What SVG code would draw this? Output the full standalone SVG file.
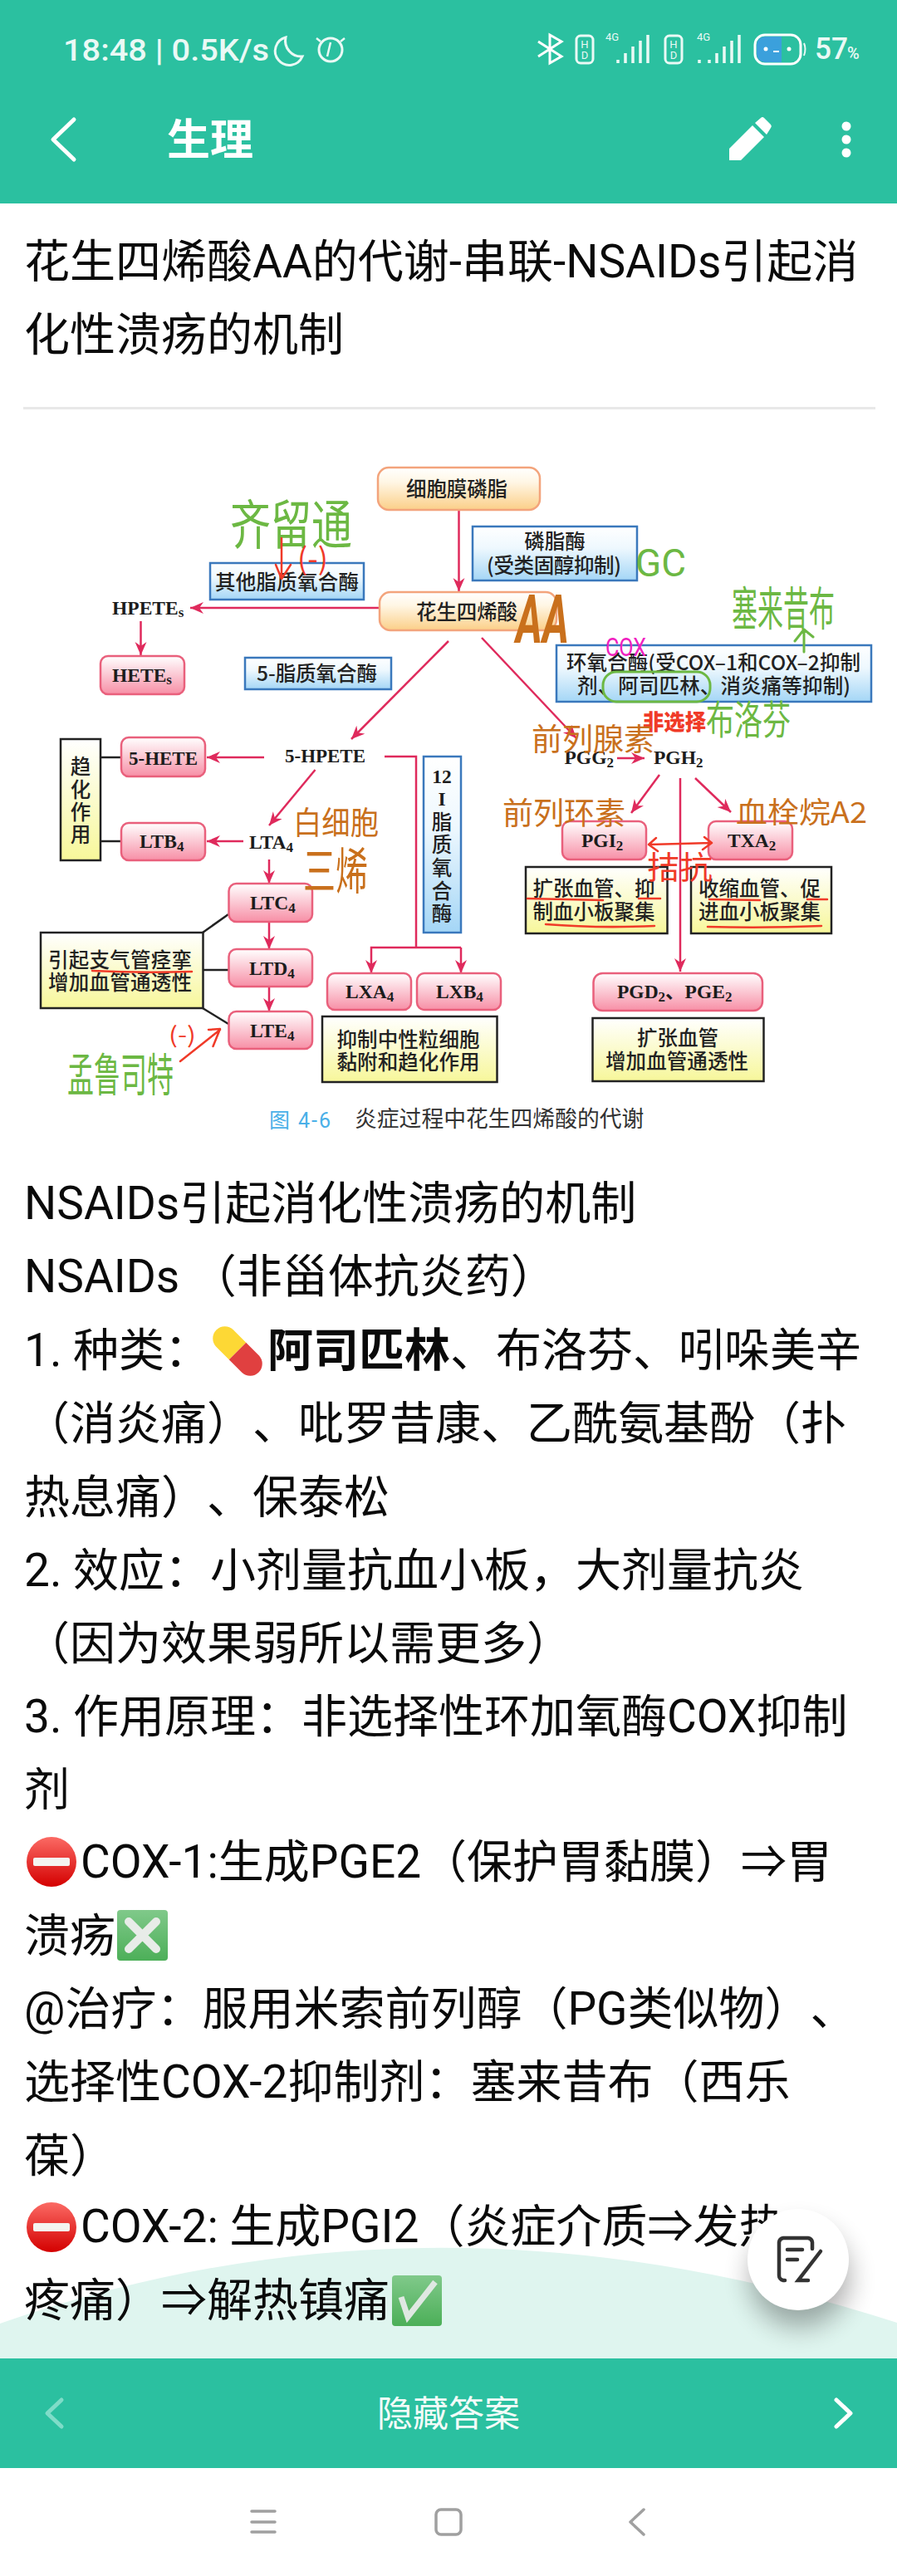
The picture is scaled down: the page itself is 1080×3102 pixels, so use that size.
<svg xmlns="http://www.w3.org/2000/svg" width="1080" height="3102" viewBox="0 0 1080 3102">
<style>
text{font-family:"Noto Sans CJK SC",sans-serif;text-spacing-trim:space-all}
.ui{font-family:Roboto,"Noto Sans CJK SC",sans-serif}
.b{font-family:Roboto,"Noto Sans CJK SC",sans-serif;font-size:55px;fill:#0a0a0a}
.o{fill:url(#gO);stroke:#f3a47c;stroke-width:2.5}
.p{fill:url(#gP);stroke:#e9607c;stroke-width:2.5}
.e{fill:url(#gB);stroke:#3a78bc;stroke-width:2.5}
.y{fill:url(#gY);stroke:#222;stroke-width:2.5}
.l{font-family:"Liberation Serif","Noto Sans CJK SC",serif;font-weight:700;font-size:23.5px;fill:#1c1c1c}
.s{font-size:17px}
.c{font-weight:500;font-size:24.5px;fill:#222}
.a{fill:none;stroke:#df2a5c;stroke-width:2.5}
.k{fill:none;stroke:#222;stroke-width:2.5}
.g{fill:#6cb843}.n{fill:#c9701c}.r{fill:#f03a28}
.hr{fill:none;stroke:#f03a28;stroke-width:2.5;stroke-linecap:round;stroke-linejoin:round}
.hg{fill:none;stroke:#6cb843;stroke-width:3;stroke-linecap:round;stroke-linejoin:round}
.w{fill:none;stroke:#fff;stroke-width:5;stroke-linecap:round;stroke-linejoin:round}
.h{fill:none;stroke:#a0a0a0;stroke-width:3.5;stroke-linecap:round;stroke-linejoin:round}
</style>
<defs>
<linearGradient id="gO" x1="0" y1="0" x2="0" y2="1"><stop offset="0" stop-color="#fff"/><stop offset=".35" stop-color="#fff6e4"/><stop offset="1" stop-color="#fbcf88"/></linearGradient>
<linearGradient id="gP" x1="0" y1="0" x2="0" y2="1"><stop offset="0" stop-color="#fff"/><stop offset="1" stop-color="#f78fa6"/></linearGradient>
<linearGradient id="gB" x1="0" y1="0" x2="0" y2="1"><stop offset="0" stop-color="#fff"/><stop offset=".4" stop-color="#eef8fe"/><stop offset="1" stop-color="#a4d6f6"/></linearGradient>
<linearGradient id="gY" x1="0" y1="0" x2="0" y2="1"><stop offset="0" stop-color="#fff"/><stop offset="1" stop-color="#f7f79a"/></linearGradient>
<linearGradient id="gR" x1="0" y1="0" x2="0" y2="1"><stop offset="0" stop-color="#fb6a64"/><stop offset="1" stop-color="#d40000"/></linearGradient>
<linearGradient id="gG" x1="0" y1="0" x2="0" y2="1"><stop offset="0" stop-color="#80c98a"/><stop offset="1" stop-color="#4caf58"/></linearGradient>
<marker id="ah" markerUnits="userSpaceOnUse" markerWidth="18" markerHeight="16" refX="16" refY="7" orient="auto"><path d="M0,0 L16,7 L0,14 L5,7 z" fill="#df2a5c"/></marker>
<filter id="sh" x="-50%" y="-50%" width="200%" height="200%"><feGaussianBlur stdDeviation="16"/></filter>
<symbol id="noentry" viewBox="0 0 60 60" overflow="visible"><ellipse cx="30" cy="30" rx="30" ry="30" fill="url(#gR)"/><rect x="8" y="25" width="44" height="10" rx="2" fill="#f4f4f0"/></symbol>
</defs>
<rect width="1080" height="3102" fill="#fff"/>

<g id="appbar">
<rect width="1080" height="245" fill="#2bc0a0"/>
<text class="ui" x="76" y="73" font-size="37" font-weight="500" fill="#eaf9f5" textLength="248" lengthAdjust="spacingAndGlyphs">18:48 | 0.5K/s</text>
<path d="M344,45 A17,17 0 1 0 364,68 A19,19 0 0 1 344,45 Z" fill="none" stroke="#eaf9f5" stroke-width="3"/>
<circle cx="398" cy="60" r="14" fill="none" stroke="#eaf9f5" stroke-width="3"/><path d="M398,51 L394,68 M381,46 L386,50 M415,46 L410,50" stroke="#eaf9f5" stroke-width="2.5" fill="none"/>
<path d="M648,50 L676,68 L662,76 L662,42 L676,50 L648,68" fill="none" stroke="#fff" stroke-width="3"/>
<rect x="694" y="43" width="20" height="33" rx="5" fill="none" stroke="#eaf9f5" stroke-width="3"/>
<text class="ui" x="704" y="58" font-size="13" fill="#eaf9f5" text-anchor="middle">H</text><text class="ui" x="704" y="71" font-size="13" fill="#eaf9f5" text-anchor="middle">D</text>
<text class="ui" x="729" y="49" font-size="13" fill="#eaf9f5">4G</text>
<path d="M744,76V72 M753,76V64 M762,76V56 M771,76V49 M780,76V42" stroke="#eaf9f5" stroke-width="3.5" fill="none"/>
<rect x="801" y="43" width="20" height="33" rx="5" fill="none" stroke="#eaf9f5" stroke-width="3"/>
<text class="ui" x="811" y="58" font-size="13" fill="#eaf9f5" text-anchor="middle">H</text><text class="ui" x="811" y="71" font-size="13" fill="#eaf9f5" text-anchor="middle">D</text>
<text class="ui" x="839" y="49" font-size="13" fill="#eaf9f5">4G</text>
<path d="M842,76V72 M854,76V72 M863,76V64 M872,76V56 M881,76V49 M890,76V42" stroke="#eaf9f5" stroke-width="3.5" fill="none"/>
<rect x="909" y="42" width="55" height="35" rx="12" fill="#2bc0a0" stroke="#fff" stroke-width="3"/>
<path d="M921,44 H941 V75 H921 A10,10 0 0 1 911,65 V54 A10,10 0 0 1 921,44Z" fill="#3ba0dc"/>
<circle cx="922" cy="59" r="2.5" fill="#fff"/><circle cx="950" cy="59" r="2.5" fill="#fff"/><path d="M931,62H938" stroke="#fff" stroke-width="2"/>
<path d="M968,52 Q971,59 968,67" stroke="#eaf9f5" stroke-width="2" fill="none"/>
<text class="ui" x="981" y="71" font-size="36" font-weight="500" fill="#eaf9f5" textLength="40" lengthAdjust="spacingAndGlyphs">57</text>
<text class="ui" x="1020" y="71" font-size="20" font-weight="500" fill="#eaf9f5">%</text>
<path class="w" d="M89,144 L64,168 L89,192"/>
<text x="201" y="187" font-size="52" font-weight="700" fill="#fff">生理</text>
<path d="M878,193 L878,179 L906,151 L920,165 L892,193 Z M909,148 L916,142 A3,3 0 0 1 920,142 L928,150 A3,3 0 0 1 928,154 L923,162 Z" fill="#fff"/>
<circle cx="1019" cy="152" r="5.5" fill="#fff"/><circle cx="1019" cy="168" r="5.5" fill="#fff"/><circle cx="1019" cy="184" r="5.5" fill="#fff"/>
</g>

<g id="title">
<text class="b" x="29" y="334">花生四烯酸AA的代谢-串联-NSAIDs引起消</text>
<text class="b" x="29" y="422">化性溃疡的机制</text>
<rect x="28" y="490" width="1026" height="3" fill="#e8e8e8"/>
</g>

<g id="connectors">
<path class="a" marker-end="url(#ah)" d="M552.5,614V712"/>
<path class="a" marker-end="url(#ah)" d="M457,732H229"/>
<path class="a" marker-end="url(#ah)" d="M169.5,748V789"/>
<path class="a" marker-end="url(#ah)" d="M540,772L423,890"/>
<path class="a" marker-end="url(#ah)" d="M580,768L694,889"/>
<path class="a" marker-end="url(#ah)" d="M318,912H249"/>
<path class="a" marker-end="url(#ah)" d="M379.5,927L324,994"/>
<path class="a" marker-end="url(#ah)" d="M293,1013H249"/>
<path class="a" marker-end="url(#ah)" d="M324,1035V1064"/>
<path class="a" marker-end="url(#ah)" d="M324,1110V1143"/>
<path class="a" marker-end="url(#ah)" d="M324,1188V1218"/>
<path class="a" d="M463,911H501V1141"/>
<path class="a" marker-end="url(#ah)" d="M555,1141H447V1172"/>
<path class="a" marker-end="url(#ah)" d="M555,1141V1172"/>
<path class="a" marker-end="url(#ah)" d="M743,913H776"/>
<path class="a" marker-end="url(#ah)" d="M794,933L760,979"/>
<path class="a" marker-end="url(#ah)" d="M837,937L880,978"/>
<path class="a" marker-end="url(#ah)" d="M819,937V1170"/>
<path class="k" d="M121,912H146 M121,1013H146 M244,1123L275,1101 M244,1168H275 M244,1214L275,1233"/>
</g>

<g id="n-membrane"><rect class="o" x="455" y="563" width="195" height="51" rx="13"/><text class="c" x="489" y="598" textLength="122">细胞膜磷脂</text></g>
<g id="n-pla2"><rect class="e" x="569" y="634" width="198" height="65"/><text class="c" x="668" y="661" text-anchor="middle">磷脂酶</text><text class="c" x="586" y="690" textLength="162">(受类固醇抑制)</text></g>
<g id="n-aa"><rect class="o" x="457" y="713" width="213" height="46" rx="13"/><text class="c" x="501" y="746" textLength="122">花生四烯酸</text></g>
<g id="n-other-lox"><rect class="e" x="253" y="678" width="185" height="44"/><text class="c" x="259" y="710" textLength="173">其他脂质氧合酶</text></g>
<g id="n-hpetes"><text class="l" x="135" y="740">HPETE<tspan class="s" dy="3">s</tspan></text></g>
<g id="n-hetes"><rect class="p" x="121" y="790" width="101" height="46" rx="9"/><text class="l" x="135" y="821">HETE<tspan class="s" dy="3">s</tspan></text></g>
<g id="n-5lox"><rect class="e" x="295" y="792" width="176" height="38"/><text class="c" x="309" y="820" textLength="145">5-脂质氧合酶</text></g>
<g id="n-cox"><rect class="e" x="670" y="777" width="379" height="68"/><text class="c" x="682" y="807" textLength="354">环氧合酶(受COX–1和COX–2抑制</text><text class="c" x="695" y="835" textLength="329">剂、阿司匹林、消炎痛等抑制)</text></g>
<g id="n-5hpete"><text class="l" x="343" y="918" textLength="97" lengthAdjust="spacingAndGlyphs">5-HPETE</text></g>
<g id="n-5hete"><rect class="p" x="146" y="888" width="101" height="47" rx="9"/><text class="l" x="155" y="921" textLength="83" lengthAdjust="spacingAndGlyphs">5-HETE</text></g>
<g id="n-chemo"><rect class="y" x="73" y="890" width="48" height="146"/><text class="c" x="97" y="932" text-anchor="middle">趋</text><text class="c" x="97" y="960" text-anchor="middle">化</text><text class="c" x="97" y="987" text-anchor="middle">作</text><text class="c" x="97" y="1014" text-anchor="middle">用</text></g>
<g id="n-ltb4"><rect class="p" x="146" y="991" width="101" height="45" rx="9"/><text class="l" x="168" y="1021">LTB<tspan class="s" dy="4">4</tspan></text></g>
<g id="n-lta4"><text class="l" x="300" y="1022">LTA<tspan class="s" dy="4">4</tspan></text></g>
<g id="n-ltc4"><rect class="p" x="275.500" y="1064" width="100.500" height="46" rx="9"/><text class="l" x="301" y="1095">LTC<tspan class="s" dy="4">4</tspan></text></g>
<g id="n-ltd4"><rect class="p" x="275.500" y="1143" width="100.500" height="45" rx="9"/><text class="l" x="300" y="1174">LTD<tspan class="s" dy="4">4</tspan></text></g>
<g id="n-lte4"><rect class="p" x="275.500" y="1218" width="100.500" height="45" rx="9"/><text class="l" x="301" y="1249">LTE<tspan class="s" dy="4">4</tspan></text></g>
<g id="n-bronch"><rect class="y" x="49" y="1123" width="195.500" height="91"/><text class="c" x="58" y="1165" textLength="173">引起支气管痉挛</text><text class="c" x="58" y="1192" textLength="173">增加血管通透性</text></g>
<g id="n-12lox"><rect class="e" x="510" y="911" width="45" height="212"/><g text-anchor="middle"><text class="l" x="532" y="943">12</text><text class="l" x="532" y="970">I</text><text class="c" x="532" y="999">脂</text><text class="c" x="532" y="1026">质</text><text class="c" x="532" y="1054">氧</text><text class="c" x="532" y="1082">合</text><text class="c" x="532" y="1109">酶</text></g></g>
<g id="n-lxa4"><rect class="p" x="394" y="1172" width="101" height="44" rx="9"/><text class="l" x="416" y="1202">LXA<tspan class="s" dy="4">4</tspan></text></g>
<g id="n-lxb4"><rect class="p" x="502" y="1172" width="101" height="44" rx="9"/><text class="l" x="525" y="1202">LXB<tspan class="s" dy="4">4</tspan></text></g>
<g id="n-neutro"><rect class="y" x="388" y="1224" width="210.500" height="79"/><text class="c" x="405.500" y="1261" textLength="172">抑制中性粒细胞</text><text class="c" x="405.500" y="1288" textLength="172">黏附和趋化作用</text></g>
<g id="n-pgg2"><text class="l" x="679.500" y="920">PGG<tspan class="s" dy="4">2</tspan></text></g>
<g id="n-pgh2"><text class="l" x="787" y="920">PGH<tspan class="s" dy="4">2</tspan></text></g>
<g id="n-pgi2"><rect class="p" x="677" y="989" width="101" height="46" rx="9"/><text class="l" x="700" y="1020">PGI<tspan class="s" dy="4">2</tspan></text></g>
<g id="n-txa2"><rect class="p" x="853" y="989" width="101" height="46" rx="9"/><text class="l" x="876" y="1020">TXA<tspan class="s" dy="4">2</tspan></text></g>
<g id="n-dilate"><rect class="y" x="633" y="1044" width="170.500" height="80"/><text class="c" x="641.500" y="1079" textLength="147">扩张血管、抑</text><text class="c" x="641.500" y="1107" textLength="147">制血小板聚集</text></g>
<g id="n-constrict"><rect class="y" x="832" y="1044" width="169" height="80"/><text class="c" x="841" y="1079" textLength="147">收缩血管、促</text><text class="c" x="841" y="1107" textLength="147">进血小板聚集</text></g>
<g id="n-pgd2"><rect class="p" x="714.500" y="1172" width="203.500" height="45" rx="11"/><text class="l" x="743" y="1202">PGD<tspan class="s" dy="4">2</tspan><tspan dy="-4">、PGE</tspan><tspan class="s" dy="4">2</tspan></text></g>
<g id="n-perm"><rect class="y" x="713.500" y="1226" width="206" height="76"/><text class="c" x="816" y="1259" text-anchor="middle">扩张血管</text><text class="c" x="729" y="1287" textLength="172">增加血管通透性</text></g>
<g id="caption"><text class="ui" x="324" y="1358" font-size="25" fill="#4ab0e8" textLength="74">图 4-6</text><text x="427" y="1357" font-size="26.800" fill="#333">炎症过程中花生四烯酸的代谢</text></g>

<g id="annotations">
<text class="g" transform="translate(277,655) scale(1,1.3)" font-size="49" textLength="147" lengthAdjust="spacingAndGlyphs">齐留通</text>
<path class="hr" d="M339,648V697 M332,680L339,697L350,680"/>
<text class="r" x="358" y="686" font-size="36">(-)</text>
<text class="g ui" x="765" y="694" font-size="46" textLength="61" lengthAdjust="spacingAndGlyphs">GC</text>
<text class="n ui" x="621" y="774" font-size="82" font-weight="700" font-style="italic" textLength="64" lengthAdjust="spacingAndGlyphs">AA</text>
<text class="ui" x="729" y="790" font-size="32" fill="#f020c0" textLength="49" lengthAdjust="spacingAndGlyphs">COX</text>
<text class="g" transform="translate(881,753) scale(1,1.8)" font-size="31">塞来昔布</text>
<path class="hg" d="M968,785V758 M957,772L968,758L979,767"/>
<rect x="726" y="809" width="129" height="36" rx="16" fill="none" stroke="#6cb843" stroke-width="3"/>
<text class="r" x="774" y="879" font-size="26" font-weight="900" textLength="76" lengthAdjust="spacingAndGlyphs">非选择</text>
<text class="g" transform="translate(850,884) scale(1,1.4)" font-size="34">布洛芬</text>
<text class="n" x="640" y="904" font-size="37">前列腺素</text>
<text class="n" x="605" y="993" font-size="37">前列环素</text>
<text class="n" x="886" y="991" font-size="35" textLength="158" lengthAdjust="spacingAndGlyphs">血栓烷A2</text>
<path class="hr" d="M781,1017L857,1015 M790,1009L781,1017L792,1025 M848,1008L857,1015L846,1023" stroke-width="3"/>
<text class="r" x="779" y="1058" font-size="38" textLength="79" lengthAdjust="spacingAndGlyphs">拮抗</text>
<path class="hr" d="M635,1082L726,1084 M769,1082L795,1082 M657,1113Q720,1118 788,1115 M854,1083L915,1084 M972,1083L996,1083 M852,1116Q920,1118 989,1115 M111,1169Q170,1172 231,1170"/>
<text class="n" x="353" y="1004" font-size="38" textLength="103" lengthAdjust="spacingAndGlyphs">白细胞</text>
<text class="n" transform="translate(365,1071) scale(1,1.55)" font-size="39">三烯</text>
<text class="g" transform="translate(81,1314) scale(1,1.7)" font-size="32">孟鲁司特</text>
<text class="r" x="203" y="1256" font-size="27" textLength="33" lengthAdjust="spacingAndGlyphs">(-)</text>
<path class="hr" d="M217,1278L265,1240 M251,1240L265,1239L256.500,1260"/>
</g>

<g id="curve"><path d="M0,2798 Q520,2616 1080,2797 V2840 H0 Z" fill="#dff5ef"/></g>

<g id="body">
<text class="b" x="29" y="1468">NSAIDs引起消化性溃疡的机制</text>
<text class="b" x="29" y="1556">NSAIDs （非甾体抗炎药）</text>
<text class="b" x="29" y="1645">1. 种类：</text>
<g id="pill"><path d="M260.250,1621.750 A14.500,14.500 0 0 1 280.750,1601.250 L296.250,1616.750 L275.750,1637.250Z" fill="#fdd835"/><path d="M296.250,1616.750 L311.750,1632.250 A14.500,14.500 0 0 1 291.250,1652.750 L275.750,1637.250Z" fill="#e04040"/></g>
<text class="b" x="322" y="1645" font-weight="700">阿司匹林<tspan font-weight="400">、布洛芬、吲哚美辛</tspan></text>
<text class="b" x="29" y="1733">（消炎痛）、吡罗昔康、乙酰氨基酚（扑</text>
<text class="b" x="29" y="1822">热息痛）、保泰松</text>
<text class="b" x="29" y="1910">2. 效应：小剂量抗血小板，大剂量抗炎</text>
<text class="b" x="29" y="1998">（因为效果弱所以需更多）</text>
<text class="b" x="29" y="2086">3. 作用原理：非选择性环加氧酶COX抑制</text>
<text class="b" x="29" y="2174">剂</text>
<use href="#noentry" x="32" y="2212" width="60" height="60"/>
<text class="b" x="97" y="2261">COX-1:生成PGE2（保护胃黏膜）⇒胃</text>
<text class="b" x="29" y="2350">溃疡</text>
<g id="cross"><rect x="141" y="2300" width="61" height="61" rx="4" fill="url(#gG)"/><path d="M155,2314L188,2347 M188,2314L155,2347" stroke="#e8ece8" stroke-width="10" stroke-linecap="round"/></g>
<text class="b" x="29" y="2438">@治疗：服用米索前列醇（PG类似物）、</text>
<text class="b" x="29" y="2526">选择性COX-2抑制剂：塞来昔布（西乐</text>
<text class="b" x="29" y="2615">葆）</text>
<use href="#noentry" x="32" y="2652" width="60" height="60"/>
<text class="b" x="97" y="2700">COX-2: 生成PGI2（炎症介质⇒发热</text>
<text class="b" x="29" y="2789">疼痛）⇒解热镇痛</text>
<g id="check"><rect x="472" y="2740" width="60" height="61" rx="4" fill="url(#gG)"/><path d="M483,2766L491,2790L524,2748" fill="none" stroke="#dfe8e2" stroke-width="7"/></g>
</g>

<g id="bottombar">
<rect y="2840" width="1080" height="132" fill="#2bc0a0"/>
<text x="454" y="2922" font-size="43" fill="#f2fbf8">隐藏答案</text>
<path d="M74,2890L57,2906L74,2922" fill="none" stroke="#7fdcc8" stroke-width="5" stroke-linecap="round" stroke-linejoin="round"/>
<path class="w" d="M1007,2890L1024,2906L1007,2922"/>
</g>

<g id="fab">
<circle cx="963" cy="2742" r="60" fill="#000" opacity=".32" filter="url(#sh)"/>
<circle cx="961" cy="2721" r="61" fill="#fff"/>
<path d="M945,2746H943A6,6 0 0 1 938,2740V2700A6,6 0 0 1 943,2695H973A6,6 0 0 1 978,2700V2708" fill="none" stroke="#333" stroke-width="4.500" stroke-linecap="round"/>
<path d="M948,2709H966 M948,2721H960" stroke="#333" stroke-width="4.500" stroke-linecap="round"/>
<path d="M988,2711L961,2746H973" fill="none" stroke="#333" stroke-width="4.500" stroke-linecap="round"/>
</g>

<g id="navbar">
<path class="h" d="M303,3024H331 M303,3037H331 M303,3049H331"/>
<rect x="525" y="3022" width="30" height="30" rx="6" fill="none" stroke="#a0a0a0" stroke-width="3.500"/>
<path class="h" d="M775,3022L759,3037L775,3052"/>
</g>
</svg>
